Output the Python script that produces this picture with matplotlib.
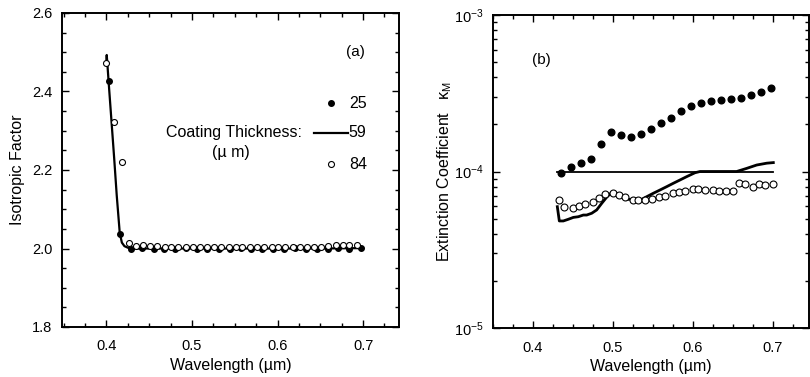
import numpy as np
import matplotlib
matplotlib.use("Agg")
import matplotlib.pyplot as plt
from matplotlib.ticker import MultipleLocator, FixedLocator, LogLocator, NullFormatter

plt.rcParams['font.family'] = ['Liberation Sans', 'DejaVu Sans']
plt.rcParams['mathtext.fontset'] = 'custom'
plt.rcParams['mathtext.rm'] = 'Liberation Sans'
plt.rcParams['mathtext.it'] = 'Liberation Sans:italic'

# ---- panel (a): isotropic factor ----
a_x25 = [0.4035, 0.416, 0.429, 0.442, 0.455, 0.467, 0.480, 0.493, 0.506, 0.518,
         0.531, 0.544, 0.557, 0.569, 0.582, 0.595, 0.608, 0.620, 0.633, 0.646,
         0.659, 0.671, 0.684, 0.697]
a_y25 = [2.428, 2.036, 2.000, 2.001, 2.000, 1.999, 2.000, 2.001, 2.000, 2.000,
         1.999, 2.000, 2.001, 2.000, 2.000, 1.999, 2.000, 2.001, 2.000, 2.000,
         2.000, 2.001, 2.000, 2.001]

a_x59 = [0.3997, 0.4003, 0.403, 0.406, 0.409, 0.412, 0.4155, 0.418, 0.421, 0.425,
         0.430, 0.450, 0.500, 0.550, 0.600, 0.650, 0.700]
a_y59 = [2.47, 2.493, 2.41, 2.32, 2.23, 2.135, 2.04, 2.015, 2.006, 2.002,
         2.000, 2.000, 2.000, 2.000, 2.000, 2.000, 2.001]

a_x84 = [0.400, 0.4085, 0.4187, 0.4261, 0.434, 0.443, 0.451, 0.459, 0.468, 0.476,
         0.484, 0.493, 0.501, 0.509, 0.518, 0.526, 0.534, 0.543, 0.551, 0.559,
         0.568, 0.576, 0.584, 0.593, 0.601, 0.609, 0.618, 0.626, 0.634, 0.643,
         0.651, 0.659, 0.668, 0.676, 0.684, 0.693]
a_y84 = [2.473, 2.323, 2.220, 2.013, 2.007, 2.008, 2.007, 2.006, 2.005, 2.004,
         2.004, 2.003, 2.003, 2.004, 2.005, 2.004, 2.005, 2.004, 2.005, 2.004,
         2.004, 2.005, 2.004, 2.004, 2.004, 2.005, 2.004, 2.005, 2.004, 2.005,
         2.004, 2.006, 2.009, 2.010, 2.008, 2.009]

# ---- panel (b): extinction coefficient ----
b_x25 = [0.435, 0.4475, 0.460, 0.4725, 0.485, 0.4975, 0.510, 0.5225, 0.535, 0.5475,
         0.560, 0.5725, 0.585, 0.5975, 0.610, 0.6225, 0.635, 0.6475, 0.660, 0.6725,
         0.685, 0.6975]
b_y25 = [9.8e-5, 1.065e-4, 1.13e-4, 1.20e-4, 1.50e-4, 1.78e-4, 1.71e-4, 1.67e-4, 1.74e-4, 1.86e-4,
         2.03e-4, 2.20e-4, 2.44e-4, 2.62e-4, 2.75e-4, 2.82e-4, 2.86e-4, 2.89e-4, 2.96e-4, 3.08e-4,
         3.24e-4, 3.40e-4]

b_x59 = [0.4304, 0.4329, 0.4379, 0.4441, 0.4504, 0.4566, 0.4629, 0.4671, 0.4734, 0.4796,
         0.4859, 0.4921, 0.4984, 0.5046, 0.5109, 0.5171, 0.5254, 0.5359, 0.5421, 0.5504,
         0.5588, 0.5671, 0.5754, 0.5838, 0.5921, 0.6025, 0.6088, 0.6546, 0.6671, 0.6796,
         0.6921, 0.7004]
b_y59 = [5.96e-5, 4.83e-5, 4.83e-5, 4.95e-5, 5.09e-5, 5.14e-5, 5.27e-5, 5.27e-5, 5.41e-5, 5.68e-5,
         6.26e-5, 6.85e-5, 7.36e-5, 7.26e-5, 6.90e-5, 6.64e-5, 6.64e-5, 6.64e-5, 6.90e-5, 7.26e-5,
         7.62e-5, 8.00e-5, 8.41e-5, 8.83e-5, 9.27e-5, 9.82e-5, 1.0e-4, 1.0e-4, 1.047e-4, 1.10e-4,
         1.13e-4, 1.14e-4]

b_xref = [0.4304, 0.7004]
b_yref = [1e-4, 1e-4]

b_x84 = [0.4325, 0.4392, 0.4496, 0.4579, 0.465, 0.4746, 0.4829, 0.49, 0.5004, 0.5075,
         0.515, 0.5246, 0.5317, 0.54, 0.5492, 0.5579, 0.565, 0.5746, 0.5829, 0.59,
         0.5996, 0.6067, 0.615, 0.6254, 0.6329, 0.6412, 0.6496, 0.6579, 0.665, 0.6746,
         0.6829, 0.69, 0.7004]
b_y84 = [6.58e-5, 5.90e-5, 5.82e-5, 6.04e-5, 6.19e-5, 6.41e-5, 6.74e-5, 7.18e-5, 7.32e-5, 7.08e-5,
         6.84e-5, 6.58e-5, 6.58e-5, 6.55e-5, 6.70e-5, 6.90e-5, 7.00e-5, 7.26e-5, 7.44e-5, 7.55e-5,
         7.70e-5, 7.70e-5, 7.62e-5, 7.62e-5, 7.55e-5, 7.50e-5, 7.47e-5, 8.49e-5, 8.32e-5, 7.92e-5,
         8.28e-5, 8.20e-5, 8.32e-5]

W, H = 810, 377
fig = plt.figure(figsize=(W / 100, H / 100), dpi=100)

def box(l, t, r, b):
    return [l / W, 1 - b / H, (r - l) / W, (b - t) / H]

ax1 = fig.add_axes(box(62, 13, 399, 327))
ax2 = fig.add_axes(box(493, 15, 809, 328))

for ax in (ax1, ax2):
    for s in ax.spines.values():
        s.set_linewidth(1.4)
    ax.tick_params(which='both', direction='in', top=True, right=True, labelsize=10.5, width=1)
    ax.tick_params(which='major', length=5)
    ax.tick_params(which='minor', length=3)
    ax.tick_params(axis='x', pad=9)
    ax.xaxis.set_major_locator(FixedLocator([0.4, 0.5, 0.6, 0.7]))
    ax.xaxis.set_minor_locator(MultipleLocator(0.025))
    ax.set_xticklabels(['0.4', '0.5', '0.6', '0.7'])
    ax.set_xlabel('Wavelength (\u00b5m)', fontsize=11.5, labelpad=3)

# panel a
ax1.plot(a_x59, a_y59, '-', color='black', lw=1.6, zorder=2)
ax1.plot(a_x25, a_y25, 'o', color='black', ms=4, zorder=3)
ax1.plot(a_x84, a_y84, 'o', mfc='white', mec='black', mew=0.8, ms=4.3, zorder=4)
ax1.set_xlim(0.348, 0.742)
ax1.set_ylim(1.8, 2.6)
ax1.yaxis.set_major_locator(MultipleLocator(0.2))
ax1.yaxis.set_minor_locator(MultipleLocator(0.05))
ax1.yaxis.set_major_formatter(matplotlib.ticker.FormatStrFormatter('%.1f'))
ax1.tick_params(axis='y', pad=7)
ax1.set_ylabel('Isotropic Factor', fontsize=11.5, labelpad=5)

ax1.text(0.872, 0.876, '(a)', transform=ax1.transAxes, ha='center', va='center', fontsize=11)
ax1.plot([0.798], [0.713], 'o', color='black', ms=4, transform=ax1.transAxes, clip_on=False)
ax1.text(0.851, 0.713, '25', transform=ax1.transAxes, ha='left', va='center', fontsize=11.5)
ax1.text(0.711, 0.618, 'Coating Thickness:', transform=ax1.transAxes, ha='right', va='center', fontsize=11.5)
ax1.plot([0.747, 0.850], [0.618, 0.618], '-', color='black', lw=1.6, transform=ax1.transAxes)
ax1.text(0.851, 0.618, '59', transform=ax1.transAxes, ha='left', va='center', fontsize=11.5)
ax1.text(0.50, 0.557, '(\u00b5 m)', transform=ax1.transAxes, ha='center', va='center', fontsize=11.5)
ax1.plot([0.798], [0.519], 'o', mfc='white', mec='black', mew=0.8, ms=4.3, transform=ax1.transAxes)
ax1.text(0.851, 0.519, '84', transform=ax1.transAxes, ha='left', va='center', fontsize=11.5)

# panel b
ax2.set_yscale('log')
ax2.plot(b_xref, b_yref, '-', color='black', lw=1.3, zorder=2)
ax2.plot(b_x59, b_y59, '-', color='black', lw=2.0, zorder=2)
ax2.plot(b_x25, b_y25, 'o', color='black', ms=4.8, zorder=3)
ax2.plot(b_x84, b_y84, 'o', mfc='white', mec='black', mew=0.8, ms=5, zorder=4)
ax2.set_xlim(0.35, 0.745)
ax2.set_ylim(1e-5, 1e-3)
ax2.yaxis.set_major_locator(FixedLocator([1e-5, 1e-4, 1e-3]))
ax2.set_yticklabels([r'$10^{-5}$', r'$10^{-4}$', r'$10^{-3}$'])
ax2.yaxis.set_minor_locator(LogLocator(base=10, subs=np.arange(2, 10)))
ax2.yaxis.set_minor_formatter(NullFormatter())
ax2.tick_params(axis='y', pad=7)
ax2.set_ylabel('Extinction Coefficient   \u03ba$_{\\mathrm{M}}$', fontsize=11.5, labelpad=0)
ax2.text(0.154, 0.856, '(b)', transform=ax2.transAxes, ha='center', va='center', fontsize=11)

fig.savefig('out.png', dpi=100)
